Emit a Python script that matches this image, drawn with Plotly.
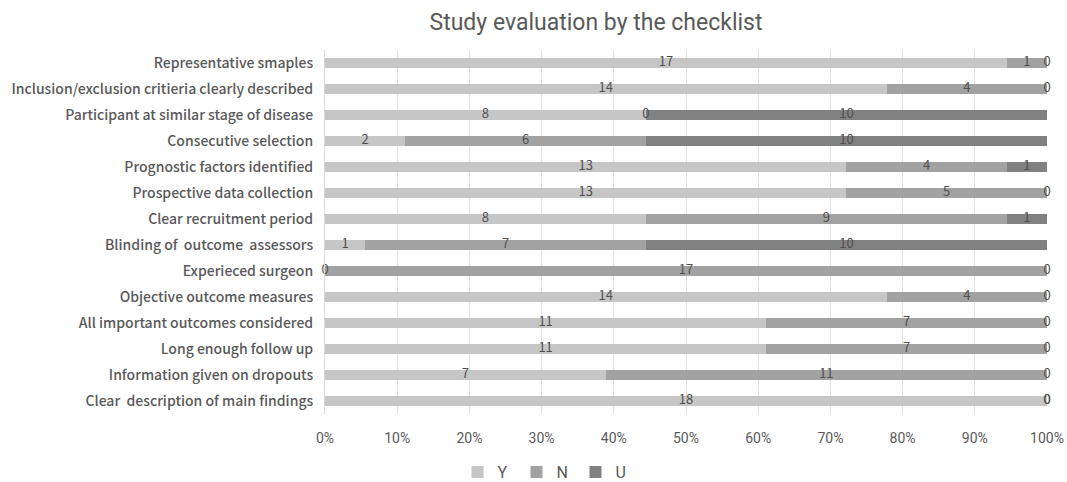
import plotly.graph_objects as go

categories = [
    "Representative smaples",
    "Inclusion/exclusion critieria clearly described",
    "Participant at similar stage of disease",
    "Consecutive selection",
    "Prognostic factors identified",
    "Prospective data collection",
    "Clear recruitment period",
    "Blinding of  outcome  assessors",
    "Experieced surgeon",
    "Objective outcome measures",
    "All important outcomes considered",
    "Long enough follow up",
    "Information given on dropouts",
    "Clear  description of main findings",
]
Y = [17, 14, 8, 2, 13, 13, 8, 1, 0, 14, 11, 11, 7, 18]
N = [1, 4, 0, 6, 4, 5, 9, 7, 17, 4, 7, 7, 11, 0]
U = [0, 0, 10, 10, 1, 0, 1, 10, 0, 0, 0, 0, 0, 0]
series_names = ["Y", "N", "U"]
series_vals = [Y, N, U]
colors = ["#c6c6c6", "#a2a2a2", "#818181"]
x_ticks = [0, 10, 20, 30, 40, 50, 60, 70, 80, 90, 100]
x_ticklabels = [f"{t}%" for t in x_ticks]

W, H = 1067, 482

fig = go.Figure()
totals = [sum(v) for v in zip(*series_vals)]
pct = [[v / t * 100 for v, t in zip(vals, totals)] for vals in series_vals]

for name, p, c in zip(series_names, pct, colors):
    fig.add_trace(go.Bar(
        y=categories, x=p, name=name, orientation="h",
        marker=dict(color=c, line=dict(width=0)),
        hoverinfo="skip",
    ))

# data labels centred on each segment
cum = [0.0] * len(categories)
for vals, p in zip(series_vals, pct):
    mids = [c0 + pp / 2 for c0, pp in zip(cum, p)]
    fig.add_trace(go.Scatter(
        y=categories, x=mids, mode="text",
        text=[str(v) for v in vals], textposition="middle center",
        textfont=dict(family="Noto Sans CJK SC", size=13, color="#505050"),
        showlegend=False, hoverinfo="skip", cliponaxis=False,
    ))
    cum = [c0 + pp for c0, pp in zip(cum, p)]

fig.update_layout(
    width=W, height=H,
    barmode="stack", bargap=0.58,
    paper_bgcolor="white", plot_bgcolor="white",
    margin=dict(l=325, r=W - 1047, t=50, b=H - 414, autoexpand=False),
    title=dict(text="Study evaluation by the checklist",
               x=596 / W, xref="container", xanchor="center",
               y=1 - 22 / H, yref="container", yanchor="middle",
               font=dict(family="Roboto", size=23, color="#595959")),
    legend=dict(orientation="h", xref="container", yref="container",
                x=546 / W, xanchor="center",
                y=1 - 472 / H, yanchor="middle",
                font=dict(family="Roboto", size=16, color="#595959"),
                itemwidth=30, entrywidth=14, traceorder="normal",
                tracegroupgap=0),
    xaxis=dict(range=[0, 100], tickvals=x_ticks, ticktext=x_ticklabels,
               showgrid=True, gridcolor="#e2e2e2", gridwidth=1,
               zeroline=False, showline=False, ticks="", automargin=False,
               ticklabelstandoff=14,
               tickfont=dict(family="Roboto", size=14, color="#595959")),
    yaxis=dict(range=[len(categories) - 0.5, -0.5], showgrid=False, zeroline=False,
               showline=True, linecolor="#d9d9d9", ticks="", automargin=False,
               ticklabelstandoff=8,
               tickfont=dict(family="Noto Sans CJK SC", size=14, weight=500,
                             color="#595959")),
)

fig.write_html(
    "out.html",
    config={"displayModeBar": False},
    post_script="document.body.style.margin='0';document.body.style.overflow='hidden';",
)
